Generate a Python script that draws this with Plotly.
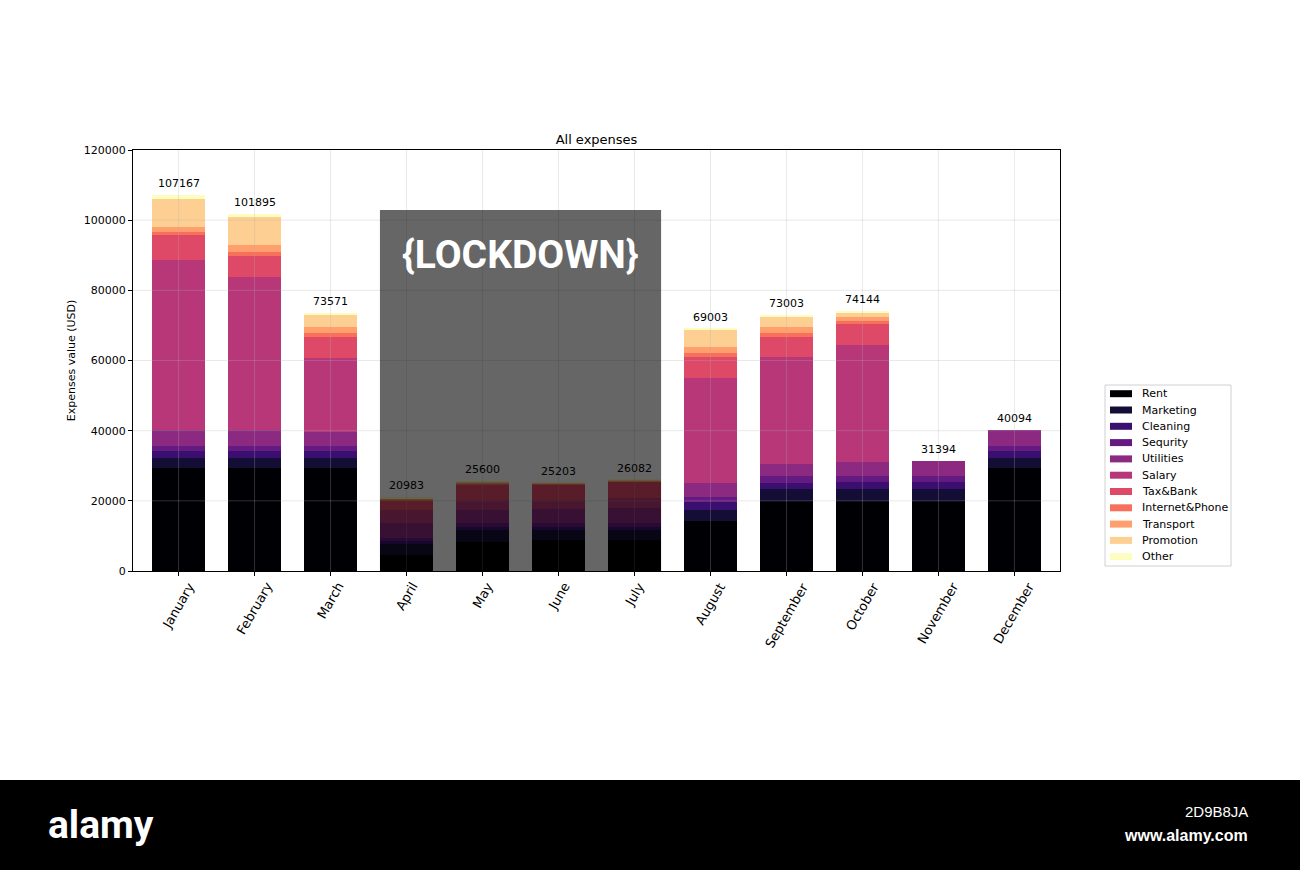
import plotly.graph_objects as go

months = ["January", "February", "March", "April", "May", "June", "July",
          "August", "September", "October", "November", "December"]
categories = ["Rent", "Marketing", "Cleaning", "Sequrity", "Utilities", "Salary",
              "Tax&Bank", "Internet&Phone", "Transport", "Promotion", "Other"]

rent = [29270, 29270, 29270, 4560, 8350, 8840, 8840, 14340, 19950, 19950, 19950, 29270]
marketing = [2850, 2850, 2850, 3130, 3330, 2850, 2850, 3050, 3340, 3340, 3340, 2850]
cleaning = [2080, 2080, 2080, 830, 950, 950, 950, 2190, 1880, 2170, 2170, 2080]
sequrity = [1520, 1520, 1520, 800, 950, 950, 950, 1600, 1900, 1620, 1620, 1520]
utilities = [4470, 4470, 3810, 4280, 3790, 4200, 4280, 3990, 3420, 4070, 4314, 4374]
salary = [48460, 43700, 21090, 3790, 2850, 2370, 2850, 29930, 30410, 33270, 0, 0]
tax_bank = [7100, 5990, 6180, 2650, 4560, 4470, 4750, 6000, 5890, 5980, 0, 0]
internet_phone = [1000, 1140, 950, 300, 250, 200, 180, 950, 950, 940, 0, 0]
transport = [1200, 1900, 1900, 200, 200, 180, 150, 1900, 1700, 1140, 0, 0]
promotion = [8200, 8000, 3230, 180, 210, 140, 150, 5000, 3200, 970, 0, 0]
other = [1017, 975, 691, 263, 160, 53, 132, 53, 363, 694, 0, 0]

series = [rent, marketing, cleaning, sequrity, utilities, salary, tax_bank,
          internet_phone, transport, promotion, other]
colors = ["#000004", "#140e36", "#3b0f70", "#641a80", "#8c2981", "#b73779",
          "#de4968", "#f7705c", "#fe9f6d", "#fecf92", "#fcfdbf"]

yticks = [0, 20000, 40000, 60000, 80000, 100000, 120000]
lockdown_first, lockdown_last = "April", "July"
lockdown_top = 102900
bar_width = 0.7

# plot-area geometry in pixels
W, H = 1300, 870
L, R, T, B = 133, 1060, 150, 571


def px(x):
    return (x - L) / (R - L)


def py(y):
    return (B - y) / (B - T)


fig = go.Figure()
for name, vals, col in zip(categories, series, colors):
    fig.add_trace(go.Bar(x=months, y=vals, name=name, marker=dict(color=col, line=dict(width=0)),
                         width=bar_width, showlegend=False))

totals = [sum(v) for v in zip(*series)]

shapes = []
# grid lines drawn above bars (faint)
for m in months:
    shapes.append(dict(type="line", xref="x", yref="paper", x0=m, x1=m, y0=0, y1=1,
                       line=dict(color="rgba(176,176,176,0.28)", width=1), layer="above"))
for t in yticks[1:-1]:
    shapes.append(dict(type="line", xref="paper", yref="y", x0=0, x1=1, y0=t, y1=t,
                       line=dict(color="rgba(176,176,176,0.28)", width=1), layer="above"))
# lockdown overlay
i0 = months.index(lockdown_first)
i1 = months.index(lockdown_last)
shapes.append(dict(type="rect", xref="x", yref="y", x0=i0 - bar_width / 2, x1=i1 + bar_width / 2,
                   y0=0, y1=lockdown_top, fillcolor="rgba(0,0,0,0.6)", line=dict(width=0),
                   layer="above"))
# footer band
shapes.append(dict(type="rect", xref="paper", yref="paper", x0=px(0), x1=px(W), y0=py(H), y1=py(780),
                   fillcolor="black", line=dict(width=0), layer="above"))

annotations = []
for m, tot in zip(months, totals):
    annotations.append(dict(x=m, y=tot, text=str(tot), showarrow=False, yanchor="bottom",
                            yshift=3, font=dict(size=11, color="black", family="DejaVu Sans")))
# rotated month labels centred on ticks (matplotlib style)
for m in months:
    annotations.append(dict(x=m, y=0, xref="x", yref="paper", text=m, textangle=-60,
                            showarrow=False, xanchor="center", yanchor="top", yshift=-6,
                            font=dict(size=13, color="black", family="DejaVu Sans")))
annotations.append(dict(x=(i0 + i1) / 2, y=90000, xref="x", yref="y", text="<b>{LOCKDOWN}</b>",
                        showarrow=False, font=dict(size=39, color="white", family="Roboto")))

# custom legend box (matplotlib style)
leg_x0, leg_x1, leg_y0, leg_y1 = 1105, 1231, 385, 566
shapes.append(dict(type="rect", xref="paper", yref="paper", x0=px(leg_x0), x1=px(leg_x1),
                   y0=py(leg_y1), y1=py(leg_y0), fillcolor="white",
                   line=dict(color="#d0d0d0", width=1), layer="above"))
for k, (name, col) in enumerate(zip(categories, colors)):
    yc = 393.7 + 16.3 * k
    shapes.append(dict(type="rect", xref="paper", yref="paper", x0=px(1110), x1=px(1132),
                       y0=py(yc + 3.5), y1=py(yc - 3.5), fillcolor=col, line=dict(width=0),
                       layer="above"))
    annotations.append(dict(x=px(1140), y=py(yc), xref="paper", yref="paper", text=name,
                            xanchor="left", yanchor="middle", showarrow=False,
                            font=dict(size=11, color="black", family="DejaVu Sans")))

annotations.append(dict(x=px(101), y=py(850), xref="paper", yref="paper", text="<b>alamy</b>",
                        xanchor="center", showarrow=False,
                        font=dict(size=39, color="white", family="Roboto")))
annotations.append(dict(x=px(1250), y=py(822), xref="paper", yref="paper", text="2D9B8JA",
                        xanchor="right", showarrow=False,
                        font=dict(size=15, color="white", family="Liberation Sans, Arial")))
annotations.append(dict(x=px(1250), y=py(846), xref="paper", yref="paper", text="<b>www.alamy.com</b>",
                        xanchor="right", showarrow=False,
                        font=dict(size=16, color="white", family="Liberation Sans, Arial")))

fig.update_layout(
    width=W, height=H,
    margin=dict(l=L, r=W - R, t=T, b=H - B, autoexpand=False),
    barmode="stack",
    showlegend=False,
    plot_bgcolor="white", paper_bgcolor="white",
    font=dict(family="DejaVu Sans", size=11, color="black"),
    title=dict(text="All expenses", x=0.5, xanchor="center", xref="paper",
               y=1, yref="paper", yanchor="bottom", pad=dict(b=6),
               font=dict(size=13, family="DejaVu Sans", color="black")),
    xaxis=dict(range=[-0.6, 11.6], showgrid=False, showline=True, linecolor="black",
               linewidth=1, mirror=True, ticks="outside", ticklen=4, tickcolor="black",
               showticklabels=False),
    yaxis=dict(range=[0, 120000], tickvals=yticks, tickformat="d", showgrid=False,
               zeroline=False, showline=True, linecolor="black", linewidth=1, mirror=True,
               ticks="outside", ticklen=4, tickcolor="black", tickfont=dict(size=11),
               title=dict(text="Expenses value (USD)", font=dict(size=11), standoff=5)),
    shapes=shapes,
    annotations=annotations,
)

fig.write_html("out.html", config={"displayModeBar": False},
               post_script="document.body.style.margin='0';")
